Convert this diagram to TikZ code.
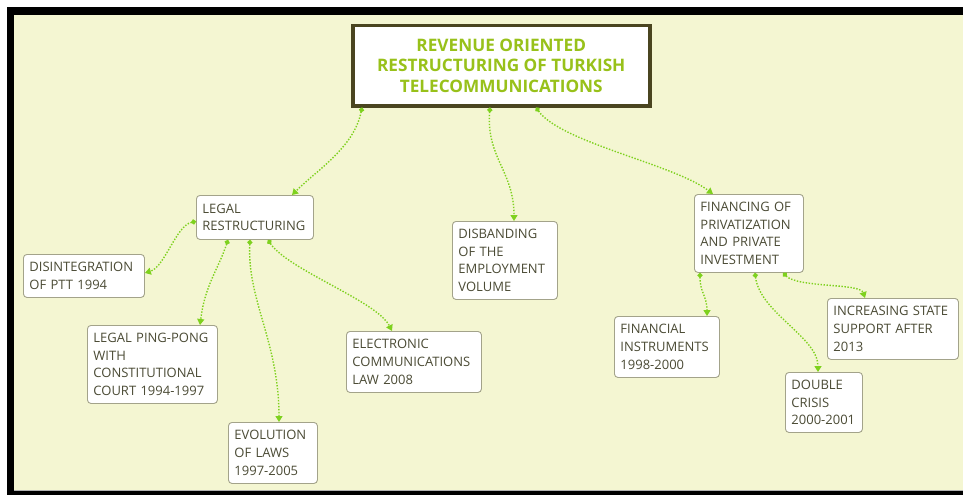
\documentclass[tikz,border=0pt]{standalone}
\usepackage{fontspec}
\setmainfont{Open Sans}
\usetikzlibrary{arrows.meta}
\definecolor{bg}{HTML}{F4F6D2}
\definecolor{lnk}{HTML}{7ED11E}
\definecolor{ttl}{HTML}{98C11A}
\definecolor{txt}{HTML}{4B4B35}
\definecolor{bord}{HTML}{A3A38A}
\definecolor{tbord}{HTML}{4A4520}
\begin{document}
\begin{tikzpicture}[x=1pt,y=-1pt,
  topic/.style={draw=bord, fill=white, rounded corners=3.5pt, line width=0.9pt, anchor=north west,
    inner xsep=6pt, inner ysep=0pt, align=left, font=\fontsize{13}{17.7}\selectfont, text=txt},
  central/.style={draw=tbord, fill=white, line width=3.5pt, anchor=north west, align=center,
    inner sep=0pt, font=\fontsize{17.2}{20.5}\selectfont\bfseries, text=ttl},
  link/.style={draw=lnk, line width=1.4pt, dash pattern=on 1.4pt off 1.6pt,
    {Circle[length=5pt]}-{Triangle[length=6pt,width=7pt]}}]
\useasboundingbox (0,0) rectangle (963,495);
\fill[white] (0,0) rectangle (963,495);
\fill[black] (7,7) rectangle (963,495);
\fill[bg] (14,15) rectangle (963,491);
\draw[gray!60, line width=0.8pt] (14,490.5) -- (963,490.5);

\node[central, minimum width=297, minimum height=80] (title) at (351,24)
  {REVENUE ORIENTED\\RESTRUCTURING OF TURKISH\\TELECOMMUNICATIONS};

\node[topic, text width=105, minimum height=44] (legal) at (196,195) {LEGAL\\RESTRUCTURING};
\node[topic, text width=109, minimum height=43] (disint) at (23,254) {DISINTEGRATION\\OF PTT 1994};
\node[topic, text width=118, minimum height=78] (ping) at (87,325) {LEGAL PING-PONG\\WITH\\CONSTITUTIONAL\\COURT 1994-1997};
\node[topic, text width=77, minimum height=61] (evol) at (228,422) {EVOLUTION\\OF LAWS\\1997-2005};
\node[topic, text width=123, minimum height=61] (elec) at (346,331) {ELECTRONIC\\COMMUNICATIONS\\LAW 2008};
\node[topic, text width=93, minimum height=78] (disb) at (452,221) {DISBANDING\\OF THE\\EMPLOYMENT\\VOLUME};
\node[topic, text width=97, minimum height=78] (fin) at (694,194) {FINANCING OF\\PRIVATIZATION\\AND PRIVATE\\INVESTMENT};
\node[topic, text width=93, minimum height=61] (finins) at (614,316) {FINANCIAL\\INSTRUMENTS\\1998-2000};
\node[topic, text width=119, minimum height=61] (incr) at (827,298) {INCREASING STATE\\SUPPORT AFTER\\2013};
\node[topic, text width=65, minimum height=60] (dbl) at (785,372) {DOUBLE\\CRISIS\\2000-2001};

\draw[link] ([xshift=11pt]title.south west) .. controls +(-8,40) and +(25,-25) .. ([xshift=96pt]legal.north west);
\draw[link] ([xshift=139pt]title.south west) .. controls +(-4,50) and +(0,-50) .. ([xshift=62pt]disb.north west);
\draw[link] ([xshift=185pt]title.south west) .. controls +(25,35) and +(-40,-30) .. ([xshift=19pt]fin.north west);

\draw[link] ([yshift=-4pt]legal.west) .. controls +(-20,4) and +(20,-6) .. ([yshift=3pt]disint.east);
\draw[link] ([xshift=32pt]legal.south west) .. controls +(-10,30) and +(5,-40) .. ([xshift=113pt]ping.north west);
\draw[link] ([xshift=54pt]legal.south west) .. controls +(-3,60) and +(0,-80) .. ([xshift=51pt]evol.north west);
\draw[link] ([xshift=72pt]legal.south west) .. controls +(20,30) and +(-15,-30) .. ([xshift=46pt]elec.north west);

\draw[link] ([xshift=6pt]fin.south west) .. controls +(0,20) and +(0,-20) .. ([xshift=93pt]finins.north west);
\draw[link] ([xshift=61pt]fin.south west) .. controls +(5,40) and +(0,-35) .. ([xshift=33pt]dbl.north west);
\draw[link] ([xshift=89pt]fin.south west) .. controls +(15,15) and +(-5,-15) .. ([xshift=38pt]incr.north west);
\end{tikzpicture}
\end{document}
